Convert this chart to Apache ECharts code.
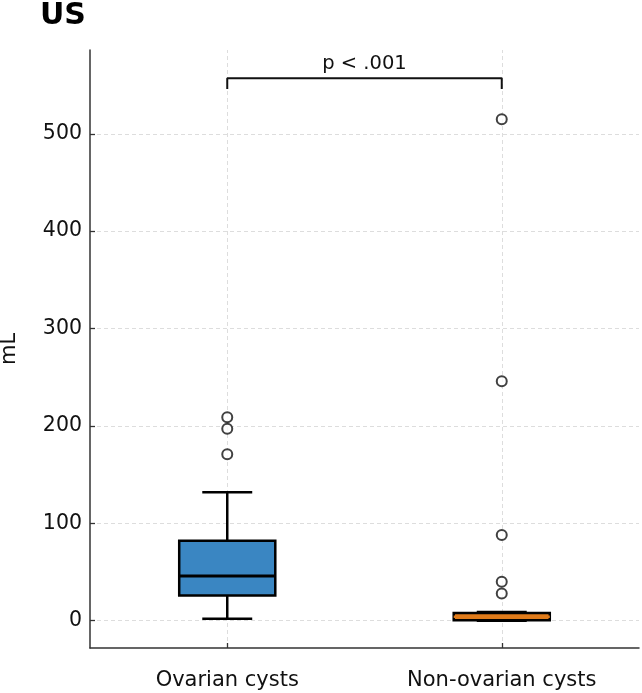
<!DOCTYPE html>
<html>
<head>
<meta charset="utf-8">
<script src="https://cdn.jsdelivr.net/npm/echarts@6/dist/echarts.min.js"></script>
<style>html,body{margin:0;padding:0;background:#fff;}#c{width:642px;height:693px;}</style>
</head>
<body>
<div id="c"></div>
<script>
const categories = ['Ovarian cysts', 'Non-ovarian cysts'];
// [whiskerLow, Q1, median, Q3, whiskerHigh]
const boxStats = [
  [2, 26, 46, 82, 132],
  [0, 0.5, 4, 8, 9]
];
const boxColors = ['#3a86c2', '#e07b1a'];
const outliers = [
  ['Ovarian cysts', 209], ['Ovarian cysts', 197], ['Ovarian cysts', 171],
  ['Non-ovarian cysts', 515], ['Non-ovarian cysts', 246], ['Non-ovarian cysts', 88],
  ['Non-ovarian cysts', 40], ['Non-ovarian cysts', 28]
];
const yTicks = [0, 100, 200, 300, 400, 500];
const bracketY = 557;
const bracketDrop = 546;
const pLabel = 'p < .001';
const titleText = 'US';
const yName = 'mL';

const FONT = 'DejaVu Sans';
const TXT = '#111';
const chart = echarts.init(document.getElementById('c'), null, {renderer: 'canvas'});

const option = {
  animation: false,
  backgroundColor: '#fff',
  title: {
    text: titleText, left: 35, top: -4,
    textStyle: {fontFamily: FONT, fontWeight: 'bold', fontSize: 30, color: '#000'}
  },
  grid: {left: 90, right: 3, top: 50, bottom: 45, outerBoundsMode: 'none', containLabel: false},
  xAxis: {
    type: 'category', data: categories, boundaryGap: true,
    axisLine: {onZero: false, lineStyle: {color: '#333', width: 1.5}},
    axisTick: {show: true, alignWithLabel: true, inside: true, length: 5, lineStyle: {color: '#333', width: 1.3}},
    axisLabel: {fontFamily: FONT, fontSize: 21, color: TXT, margin: 22},
    splitLine: {show: false}
  },
  yAxis: {
    type: 'value', min: -28, max: 586,
    name: yName, nameLocation: 'middle', nameGap: 70, nameRotate: 90,
    nameTextStyle: {fontFamily: FONT, fontSize: 21, color: TXT},
    axisLine: {show: true, onZero: false, lineStyle: {color: '#333', width: 1.5}},
    axisTick: {show: true, inside: true, length: 5, customValues: yTicks, lineStyle: {color: '#333', width: 1.3}},
    axisLabel: {fontFamily: FONT, fontSize: 20.5, color: TXT, margin: 8, customValues: yTicks},
    splitLine: {show: true, lineStyle: {color: '#ddd', type: [4, 3], width: 1}}
  },
  series: [
    {
      type: 'line',
      data: [],
      z: 0,
      markLine: {
        silent: true, symbol: 'none', z: 0,
        lineStyle: {color: '#ddd', type: [4, 3], width: 1},
        label: {show: false},
        data: categories.map(c => ({xAxis: c}))
      }
    },
    {
      type: 'custom',
      coordinateSystem: 'cartesian2d',
      data: boxStats.map((s, i) => [i].concat(s)),
      encode: {x: 0, y: [1, 2, 3, 4, 5]},
      z: 10,
      renderItem: function (params, api) {
        const idx = api.value(0);
        const lo = api.coord([idx, api.value(1)]);
        const q1 = api.coord([idx, api.value(2)]);
        const med = api.coord([idx, api.value(3)]);
        const q3 = api.coord([idx, api.value(4)]);
        const hi = api.coord([idx, api.value(5)]);
        const band = api.size([1, 0])[0];
        const bw = band * 0.35;
        const cw = bw * 0.52;
        const x = lo[0];
        const stroke = {stroke: '#000', lineWidth: 2.5};
        return {
          type: 'group',
          children: [
            {type: 'line', shape: {x1: x, y1: q3[1], x2: x, y2: hi[1]}, style: stroke},
            {type: 'line', shape: {x1: x, y1: q1[1], x2: x, y2: lo[1]}, style: stroke},
            {type: 'line', shape: {x1: x - cw / 2, y1: hi[1], x2: x + cw / 2, y2: hi[1]}, style: stroke},
            {type: 'line', shape: {x1: x - cw / 2, y1: lo[1], x2: x + cw / 2, y2: lo[1]}, style: stroke},
            {type: 'rect', shape: {x: x - bw / 2, y: q3[1], width: bw, height: q1[1] - q3[1]},
              style: {fill: boxColors[idx], stroke: '#000', lineWidth: 2.5}},
            {type: 'line', shape: {x1: x - bw / 2, y1: med[1], x2: x + bw / 2, y2: med[1]},
              style: {stroke: idx === 0 ? '#000' : boxColors[idx], lineWidth: idx === 0 ? 3 : 2.5}}
          ]
        };
      }
    },
    {
      type: 'scatter',
      data: outliers,
      symbol: 'emptyCircle',
      symbolSize: 10,
      z: 11,
      itemStyle: {color: '#111', borderColor: '#111', borderWidth: 1.6}
    },
    {
      type: 'line',
      data: [[categories[0], bracketDrop], [categories[0], bracketY], [categories[1], bracketY], [categories[1], bracketDrop]],
      symbol: 'none',
      z: 12,
      lineStyle: {color: '#111', width: 2},
      markLine: {
        silent: true, symbol: 'none',
        lineStyle: {color: 'rgba(0,0,0,0)', width: 0},
        label: {show: true, position: 'middle', formatter: pLabel, fontFamily: FONT, fontSize: 19.5, color: TXT, distance: 4},
        data: [[{coord: [categories[0], bracketY]}, {coord: [categories[1], bracketY]}]]
      }
    }
  ]
};
chart.setOption(option);
</script>
</body>
</html>
